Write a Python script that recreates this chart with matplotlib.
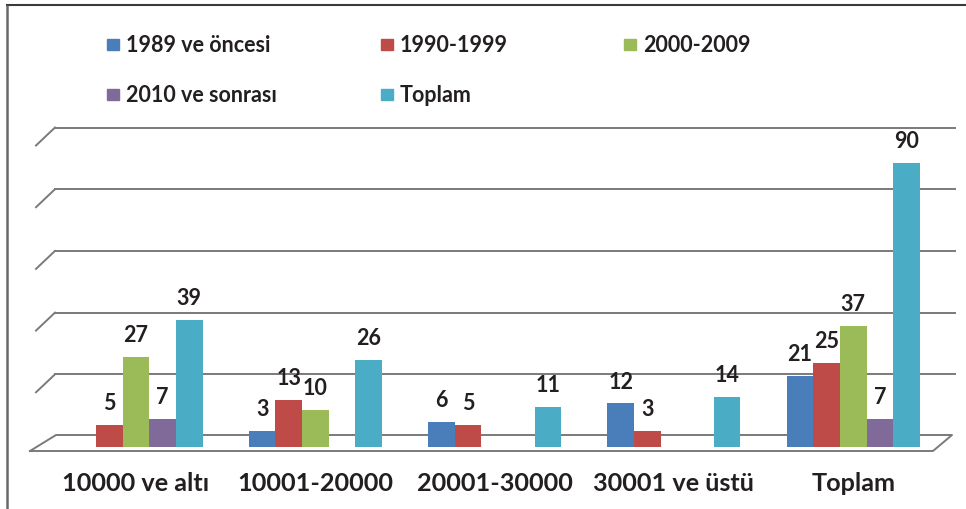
import matplotlib.pyplot as plt
import numpy as np

plt.rcParams['font.family'] = ['Lato', 'DejaVu Sans']
plt.rcParams['font.weight'] = 'bold'

kategoriler = ['10000 ve altı', '10001-20000', '20001-30000', '30001 ve üstü', 'Toplam']
seriler = ['1989 ve öncesi', '1990-1999', '2000-2009', '2010 ve sonrası', 'Toplam']
v_1989 = [0, 3, 6, 12, 21]
v_1990 = [5, 13, 5, 3, 25]
v_2000 = [27, 10, 0, 0, 37]
v_2010 = [7, 0, 0, 0, 7]
v_toplam = [39, 26, 11, 14, 90]
degerler = [v_1989, v_1990, v_2000, v_2010, v_toplam]
renkler = ['#4A7EBB', '#BE4B48', '#9BBB59', '#7F6A9A', '#4BACC6']
izgara = [0, 20, 40, 60, 80, 100]

W, H = 966, 510
YAZI = '#231f20'

# piksel olcekleri (referanstan)
X0, XS = 136, 179.3      # ilk kategori merkezi, kategori araligi
Y0, YS = 441.5, 3.085    # sifir cizgisi, birim basina piksel


def px2x(px):
    return (px - X0) / XS


def px2y(py):
    return (Y0 - py) / YS


fig = plt.figure(figsize=(W / 100, H / 100), dpi=100)

# cerceve ve lejant icin piksel koordinatli arka eksen
arka = fig.add_axes([0, 0, 1, 1])
arka.set_xlim(0, W)
arka.set_ylim(H, 0)
arka.axis('off')
arka.plot([6, W], [6, 6], color='#3a3a3a', lw=1.5, solid_capstyle='butt')
arka.plot([7, 7], [6, H], color='#6a6a6a', lw=1.8, solid_capstyle='butt')

lej_x = [126, 400, 643]
lej_y = [46, 96]
for i, (ad, renk) in enumerate(zip(seriler, renkler)):
    tx = lej_x[i % 3]
    ty = lej_y[i // 3]
    arka.add_patch(plt.Rectangle((tx - 19, ty - 6), 12, 11, color=renk))
    arka.text(tx, ty, ad, fontsize=15.5, color=YAZI, va='center', ha='left')

# ana eksen
L, R, B, T = 30, 955, 448, 120
ax = fig.add_axes([L / W, 1 - B / H, (R - L) / W, (B - T) / H])
ax.set_xlim(px2x(L), px2x(R))
ymin = px2y(B)
ax.set_ylim(ymin, px2y(T))
ax.axis('off')

# zemin
zemin_x = [30, 56, 952, 933, 30]
zemin_y = [452, 436, 436, 452, 452]
ax.plot([px2x(p) for p in zemin_x], [px2y(p) for p in zemin_y],
        color='#7a7a7a', lw=1.4, clip_on=False, zorder=1)

# arka duvar izgara cizgileri
kayma = px2y(437)
for g in izgara[1:]:
    yb = g + kayma
    ax.plot([px2x(55), px2x(955)], [yb, yb], color='#7a7a7a', lw=1.4,
            clip_on=False, zorder=1)
    ax.plot([px2x(36), px2x(55)], [yb - 18 / YS, yb], color='#7a7a7a',
            lw=1.4, clip_on=False, zorder=1)

x = np.arange(len(kategoriler))
gen = 26.6 / XS
for k, (seri, renk) in enumerate(zip(degerler, renkler)):
    v = np.array(seri, dtype=float)
    xs = x + (k - 2) * gen
    boy = np.where(v > 0, v - ymin, 0)
    ax.bar(xs, boy, bottom=ymin, width=gen, color=renk, zorder=3)
    for xi, vi in zip(xs, v):
        if vi > 0:
            ax.annotate(f'{int(vi)}', (xi, vi), xytext=(0, 11.5),
                        textcoords='offset points', ha='center',
                        va='baseline', fontsize=15.5, color=YAZI,
                        annotation_clip=False)

for xi, ad in zip(x, kategoriler):
    ax.text(xi, (B - 491.5) / (B - T), ad, transform=ax.get_xaxis_transform(),
            ha='center', va='baseline', fontsize=18.2, color=YAZI)

fig.savefig('out.png', dpi=100)
